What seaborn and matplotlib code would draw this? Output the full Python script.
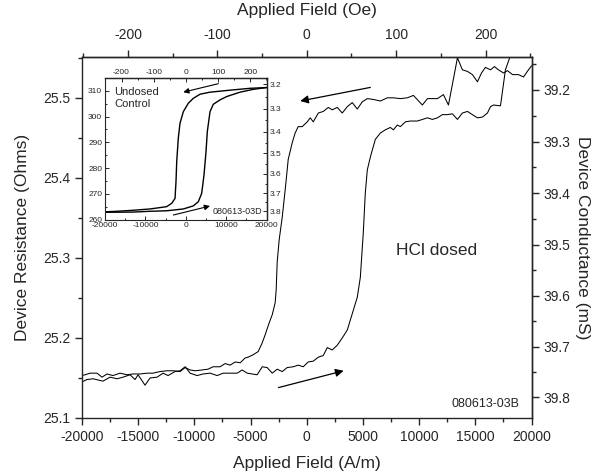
import matplotlib
matplotlib.use("Agg")
import matplotlib.pyplot as plt
import seaborn as sns
from matplotlib.ticker import MultipleLocator
import numpy as np

# main loop, HCl dosed device (field in A/m, resistance in Ohms)
desc_field = [20000, 19730, 19290, 18840, 18310, 17860, 17510, 17060, 16700, 16350,
              15900, 15550, 15190, 14740, 14300, 13850, 13410, 12610, 12160, 11630,
              10740, 10290, 9490, 8950, 8330, 7710, 7170, 6550, 5920, 5390,
              4940, 4500, 4050, 3610, 3160, 2720, 2270, 1920, 1470, 1030,
              580, 310, 45, -400, -760, -1030, -1290, -1650, -1740, -1920,
              -2180, -2450, -2630, -2720, -2810, -3070, -3340, -3700, -3960, -4320,
              -4770, -5210, -5480, -5920, -6370, -6820, -7260, -7710, -8330, -8780,
              -9310, -9930, -10380, -10820, -11270, -11890, -12430, -13050, -13680, -14210,
              -14830, -15460, -15990, -16620, -17240, -17770, -18220, -18660, -19290, -19730,
              -20000]
desc_res = [25.540, 25.535, 25.526, 25.529, 25.529, 25.534, 25.531, 25.535, 25.539, 25.535,
            25.538, 25.531, 25.520, 25.529, 25.533, 25.535, 25.550, 25.491, 25.504, 25.499,
            25.499, 25.491, 25.503, 25.500, 25.499, 25.500, 25.500, 25.496, 25.498, 25.499,
            25.495, 25.486, 25.494, 25.489, 25.481, 25.488, 25.485, 25.488, 25.483, 25.481,
            25.470, 25.475, 25.470, 25.464, 25.464, 25.456, 25.444, 25.423, 25.410, 25.385,
            25.351, 25.323, 25.295, 25.260, 25.244, 25.229, 25.219, 25.204, 25.194, 25.183,
            25.179, 25.176, 25.175, 25.169, 25.170, 25.166, 25.168, 25.164, 25.164, 25.161,
            25.160, 25.159, 25.160, 25.163, 25.158, 25.159, 25.159, 25.158, 25.156, 25.156,
            25.155, 25.155, 25.154, 25.156, 25.153, 25.155, 25.151, 25.156, 25.156, 25.154,
            25.153]

asc_field = [-20000, -19560, -19020, -18130, -17510, -16880, -16350, -15720, -15280, -15010,
             -14390, -13940, -13320, -12780, -12340, -11720, -11270, -10820, -10380, -9760,
             -9220, -8600, -7970, -7440, -6820, -6190, -5750, -5300, -4860, -4410,
             -3960, -3520, -3070, -2630, -2180, -1740, -1200, -760, -310, 130,
             580, 1030, 1470, 1830, 2270, 2720, 3160, 3610, 4500, 4770,
             5030, 5210, 5390, 5660, 6100, 6550, 6990, 7440, 7710, 8060,
             8330, 8780, 9220, 9840, 10290, 10740, 11180, 11630, 12070, 12520,
             12960, 13410, 13850, 14300, 14740, 15190, 15640, 16080, 16350, 16620,
             17240, 17680, 18310, 18580]
asc_res = [25.145, 25.148, 25.149, 25.146, 25.151, 25.149, 25.151, 25.154, 25.148, 25.154,
           25.141, 25.150, 25.151, 25.156, 25.153, 25.158, 25.159, 25.164, 25.156, 25.153,
           25.155, 25.156, 25.153, 25.156, 25.156, 25.156, 25.160, 25.156, 25.155, 25.154,
           25.164, 25.163, 25.156, 25.161, 25.158, 25.163, 25.164, 25.166, 25.164, 25.170,
           25.171, 25.176, 25.178, 25.188, 25.185, 25.191, 25.200, 25.210, 25.251, 25.276,
           25.331, 25.381, 25.410, 25.426, 25.448, 25.456, 25.460, 25.463, 25.460, 25.466,
           25.464, 25.470, 25.471, 25.471, 25.473, 25.475, 25.473, 25.475, 25.479, 25.479,
           25.480, 25.473, 25.481, 25.483, 25.479, 25.475, 25.476, 25.481, 25.489, 25.491,
           25.490, 25.535, 25.560, 25.579]

# inset loop, undosed control device
ins_desc_field = [20000, 15870, 11740, 5975, 3500, 1840, 610, -630, -1450, -1870,
                  -2260, -2440, -2680, -3500, -4740, -8870, -13000, -17110, -20000]
ins_desc_res = [311.3, 311.0, 310.4, 309.5, 308.7, 307.1, 305.2, 301.9, 297.4, 291.6,
                282.5, 274.7, 268.2, 266.3, 265.0, 264.1, 263.6, 263.2, 263.0]
ins_asc_field = [-20000, -13000, -8870, -4740, -630, 1840, 3080, 3920, 4490, 4985,
                 5310, 5975, 6790, 8450, 10110, 13400, 16690, 20000]
ins_asc_res = [262.8, 262.9, 263.2, 263.4, 264.1, 265.3, 266.9, 270.2, 277.3, 286.4,
               294.2, 301.9, 304.8, 306.5, 307.8, 309.5, 310.6, 311.3]

AM_PER_OE = 1000 / (4 * np.pi)

sns.set_style("ticks")
plt.rcParams['font.family'] = ['Liberation Sans', 'DejaVu Sans']
plt.rcParams['axes.linewidth'] = 1.0
plt.rcParams['axes.unicode_minus'] = False

fig = plt.figure(figsize=(5.98, 4.73), dpi=100)
ax = fig.add_axes([0.1371, 0.1163, 0.7517, 0.7632])

sns.lineplot(x=desc_field, y=desc_res, sort=False, estimator=None, color='black', lw=0.75, ax=ax)
sns.lineplot(x=asc_field, y=asc_res, sort=False, estimator=None, color='black', lw=0.75, ax=ax)

ax.set_xlim(-20000, 20000)
ax.set_ylim(25.1, 25.551)
ax.xaxis.set_major_locator(MultipleLocator(5000))
ax.xaxis.set_minor_locator(MultipleLocator(2500))
ax.yaxis.set_major_locator(MultipleLocator(0.1))
ax.yaxis.set_minor_locator(MultipleLocator(0.05))
ax.tick_params(which='major', direction='out', length=5, width=1, labelsize=10)
ax.tick_params(which='minor', direction='out', length=3, width=1)
ax.set_xlabel('Applied Field (A/m)', fontsize=12.5, labelpad=9)
ax.set_ylabel('Device Resistance (Ohms)', fontsize=12.5, labelpad=9)

top = ax.secondary_xaxis('top', functions=(lambda a: a / AM_PER_OE, lambda o: o * AM_PER_OE))
top.xaxis.set_major_locator(MultipleLocator(100))
top.xaxis.set_minor_locator(MultipleLocator(50))
top.tick_params(which='major', direction='out', length=5, width=1, labelsize=10, pad=6)
top.tick_params(which='minor', direction='out', length=3, width=1)
top.set_xlabel('Applied Field (Oe)', fontsize=12.5, labelpad=9)

right = ax.secondary_yaxis('right', functions=(lambda r: 1000 / r, lambda g: 1000 / g))
right.yaxis.set_major_locator(MultipleLocator(0.1))
right.yaxis.set_minor_locator(MultipleLocator(0.05))
right.tick_params(which='major', direction='out', length=5, width=1, labelsize=10)
right.tick_params(which='minor', direction='out', length=3, width=1)
right.set_ylabel('Device Conductance (mS)', fontsize=12.5, rotation=270, labelpad=14)

arrow = dict(arrowstyle='-|>', color='black', lw=0.9, mutation_scale=12,
             shrinkA=0, shrinkB=0)
ax.annotate('', xy=(-580, 25.496), xytext=(5660, 25.513), arrowprops=arrow)
ax.annotate('', xy=(3280, 25.159), xytext=(-2510, 25.138), arrowprops=arrow)
ax.text(11580, 25.309, 'HCl dosed', fontsize=12.5, ha='center', va='center')
ax.text(18930, 25.1175, '080613-03B', fontsize=9, ha='right', va='center')

# inset
ins = fig.add_axes([0.1756, 0.5359, 0.2704, 0.2986])
sns.lineplot(x=ins_desc_field, y=ins_desc_res, sort=False, estimator=None, color='black', lw=1.0, ax=ins)
sns.lineplot(x=ins_asc_field, y=ins_asc_res, sort=False, estimator=None, color='black', lw=1.0, ax=ins)
ins.set_xlim(-20000, 20000)
ins.set_ylim(260, 314.9)
ins.xaxis.set_major_locator(MultipleLocator(10000))
ins.xaxis.set_minor_locator(MultipleLocator(5000))
ins.yaxis.set_major_locator(MultipleLocator(10))
ins.yaxis.set_minor_locator(MultipleLocator(5))
ins.tick_params(which='major', direction='in', length=3, width=0.7, labelsize=6, pad=2)
ins.tick_params(which='minor', direction='in', length=1.5, width=0.7)
for s in ins.spines.values():
    s.set_linewidth(0.8)

ins_top = ins.secondary_xaxis('top', functions=(lambda a: a / AM_PER_OE, lambda o: o * AM_PER_OE))
ins_top.xaxis.set_major_locator(MultipleLocator(100))
ins_top.xaxis.set_minor_locator(MultipleLocator(50))
ins_top.tick_params(which='major', direction='in', length=3, width=0.7, labelsize=6, pad=2)
ins_top.tick_params(which='minor', direction='in', length=1.5, width=0.7)

ins_right = ins.secondary_yaxis('right', functions=(lambda r: 1000 / r, lambda g: 1000 / g))
ins_right.yaxis.set_major_locator(MultipleLocator(0.1))
ins_right.yaxis.set_minor_locator(MultipleLocator(0.05))
ins_right.tick_params(which='major', direction='in', length=3, width=0.7, labelsize=6, pad=2)
ins_right.tick_params(which='minor', direction='in', length=1.5, width=0.7)

arrow_s = dict(arrowstyle='-|>', color='black', lw=0.8, mutation_scale=8,
               shrinkA=0, shrinkB=0)
ins.annotate('', xy=(-640, 309.5), xytext=(8030, 312.8), arrowprops=arrow_s)
ins.annotate('', xy=(5975, 265.25), xytext=(-3100, 261.75), arrowprops=arrow_s)
ins.text(-17800, 311.5, 'Undosed\nControl', fontsize=8, ha='left', va='top', linespacing=1.2)
ins.text(19000, 263.0, '080613-03D', fontsize=6.5, ha='right', va='center')

fig.savefig('out.png', dpi=100)
